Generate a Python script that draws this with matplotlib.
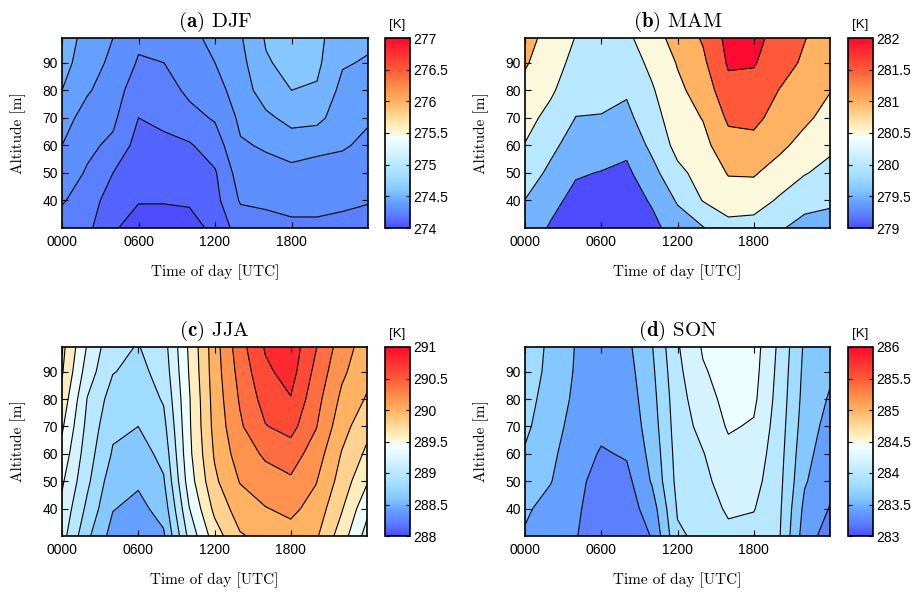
import numpy as np
import matplotlib

matplotlib.use("Agg")
import matplotlib.pyplot as plt
from matplotlib.colors import LinearSegmentedColormap, Normalize
from matplotlib.cm import ScalarMappable

plt.rcParams["mathtext.fontset"] = "cm"
plt.rcParams["font.family"] = ["Liberation Sans", "DejaVu Sans"]

# time of day [h] and altitude [m] of the grid
hours = [0, 2, 4, 6, 8, 10, 12, 14, 16, 18, 20, 22, 24]
altitudes = [30, 40, 50, 60, 70, 80, 90, 99]

# temperature profiles [K], one list per hour (altitudes 30 -> 99 m)
djf = [
    [274.25, 274.31, 274.35, 274.40, 274.44, 274.50, 274.54, 274.56],
    [274.22, 274.25, 274.29, 274.32, 274.36, 274.41, 274.44, 274.46],
    [274.12, 274.15, 274.20, 274.28, 274.32, 274.35, 274.38, 274.40],
    [274.03, 274.11, 274.13, 274.16, 274.20, 274.24, 274.29, 274.32],
    [274.03, 274.11, 274.14, 274.18, 274.22, 274.26, 274.30, 274.33],
    [274.04, 274.12, 274.16, 274.19, 274.27, 274.32, 274.36, 274.38],
    [274.14, 274.17, 274.19, 274.25, 274.31, 274.36, 274.40, 274.42],
    [274.24, 274.31, 274.35, 274.39, 274.42, 274.45, 274.47, 274.49],
    [274.26, 274.32, 274.37, 274.41, 274.48, 274.55, 274.59, 274.61],
    [274.28, 274.33, 274.37, 274.45, 274.53, 274.60, 274.63, 274.64],
    [274.28, 274.33, 274.37, 274.42, 274.53, 274.59, 274.62, 274.63],
    [274.27, 274.32, 274.36, 274.41, 274.44, 274.47, 274.51, 274.53],
    [274.24, 274.31, 274.34, 274.38, 274.41, 274.45, 274.49, 274.52],
]
mam = [
    [279.80, 279.99, 280.25, 280.48, 280.67, 280.86, 281.05, 281.15],
    [279.45, 279.65, 279.90, 280.12, 280.35, 280.58, 280.73, 280.85],
    [279.15, 279.35, 279.55, 279.78, 279.99, 280.18, 280.35, 280.48],
    [279.05, 279.25, 279.48, 279.75, 279.98, 280.12, 280.24, 280.35],
    [279.08, 279.24, 279.40, 279.62, 279.88, 280.06, 280.24, 280.40],
    [279.35, 279.56, 279.84, 280.12, 280.30, 280.45, 280.62, 280.78],
    [279.75, 280.05, 280.38, 280.65, 280.78, 280.90, 281.03, 281.20],
    [279.97, 280.52, 280.68, 280.85, 281.02, 281.20, 281.40, 281.55],
    [280.32, 280.77, 281.03, 281.32, 281.58, 281.85, 282.06, 282.15],
    [280.30, 280.72, 281.05, 281.35, 281.62, 281.82, 282.04, 282.12],
    [280.05, 280.44, 280.78, 281.12, 281.32, 281.49, 281.72, 281.85],
    [279.85, 280.15, 280.53, 280.82, 281.10, 281.27, 281.42, 281.52],
    [279.80, 280.08, 280.35, 280.60, 280.82, 281.02, 281.15, 281.25],
]
jja = [
    [289.28, 289.35, 289.43, 289.53, 289.63, 289.73, 289.82, 289.86],
    [288.84, 288.95, 289.04, 289.09, 289.14, 289.19, 289.30, 289.38],
    [288.52, 288.61, 288.68, 288.78, 288.84, 288.91, 289.01, 289.05],
    [288.48, 288.54, 288.63, 288.71, 288.80, 288.87, 288.94, 288.99],
    [288.57, 288.68, 288.78, 288.86, 288.94, 289.02, 289.08, 289.12],
    [289.26, 289.39, 289.50, 289.55, 289.57, 289.58, 289.61, 289.63],
    [289.70, 289.85, 289.96, 290.02, 290.06, 290.08, 290.10, 290.11],
    [289.98, 290.10, 290.21, 290.30, 290.37, 290.42, 290.47, 290.52],
    [290.06, 290.19, 290.32, 290.43, 290.59, 290.68, 290.76, 290.82],
    [290.12, 290.25, 290.37, 290.50, 290.67, 290.79, 290.88, 290.92],
    [290.03, 290.12, 290.21, 290.30, 290.41, 290.47, 290.54, 290.61],
    [289.70, 289.82, 289.92, 289.99, 290.08, 290.16, 290.24, 290.30],
    [289.32, 289.45, 289.62, 289.76, 289.86, 289.98, 290.06, 290.10],
]
son = [
    [283.58, 283.63, 283.70, 283.78, 283.84, 283.87, 283.90, 283.92],
    [283.48, 283.53, 283.61, 283.64, 283.68, 283.72, 283.75, 283.76],
    [283.41, 283.43, 283.45, 283.50, 283.53, 283.56, 283.58, 283.59],
    [283.28, 283.30, 283.33, 283.38, 283.45, 283.48, 283.50, 283.52],
    [283.28, 283.30, 283.34, 283.42, 283.46, 283.49, 283.52, 283.55],
    [283.41, 283.50, 283.62, 283.66, 283.70, 283.73, 283.76, 283.79],
    [283.97, 284.02, 284.06, 284.08, 284.10, 284.12, 284.15, 284.18],
    [284.05, 284.10, 284.15, 284.19, 284.26, 284.32, 284.38, 284.42],
    [284.15, 284.23, 284.29, 284.35, 284.42, 284.46, 284.48, 284.50],
    [284.13, 284.21, 284.27, 284.32, 284.38, 284.44, 284.47, 284.49],
    [284.02, 284.04, 284.06, 284.08, 284.10, 284.12, 284.14, 284.16],
    [283.50, 283.55, 283.62, 283.66, 283.70, 283.73, 283.75, 283.77],
    [283.30, 283.39, 283.45, 283.49, 283.53, 283.58, 283.63, 283.66],
]

panel_letters = ["(a)", "(b)", "(c)", "(d)"]
seasons = ["DJF", "MAM", "JJA", "SON"]
color_ranges = [(274, 277), (279, 282), (288, 291), (283, 286)]
contour_steps = [0.1, 0.5, 0.2, 0.2]
time_ticks = [0, 6, 12, 18]
time_labels = ["0000", "0600", "1200", "1800"]
alt_ticks = [40, 50, 60, 70, 80, 90]

# blue - white - red colour scale
cmap = LinearSegmentedColormap.from_list("bwr_k", [
    (0.00, "#4d4dff"), (0.033, "#5466ff"), (0.067, "#5a80ff"),
    (0.10, "#5e90ff"), (0.133, "#64a0ff"), (0.20, "#84c8ff"),
    (0.267, "#a0dcff"), (0.333, "#b8e8ff"), (0.40, "#d4f3ff"),
    (0.475, "#f0ffff"), (0.51, "#fff6d2"), (0.58, "#ffdc9c"),
    (0.667, "#ffb262"), (0.75, "#ff8a4a"), (0.833, "#ff5a3a"),
    (0.92, "#ff3030"), (1.00, "#ff0a30"),
])

W, H = 919, 593


def px_box(x0, y0, x1, y1):
    return [x0 / W, 1 - y1 / H, (x1 - x0) / W, (y1 - y0) / H]


axes_px = [(62, 38, 368, 228), (525, 38, 830, 228),
           (62, 347, 367, 536), (525, 347, 830, 536)]
cbar_px = [(385, 38, 410, 228), (848, 38, 873, 228),
           (385, 347, 410, 536), (848, 347, 873, 536)]

fig = plt.figure(figsize=(W / 100, H / 100), dpi=100)

for i, field in enumerate([djf, mam, jja, son]):
    vmin, vmax = color_ranges[i]
    step = contour_steps[i]
    temp = np.array(field).T
    levels = np.arange(vmin, vmax + 1.5 * step, step)
    norm = Normalize(vmin, vmax)
    # each band takes the colour of its lower level
    band_colors = [cmap(norm(l)) for l in levels[:-1]]

    ax = fig.add_axes(px_box(*axes_px[i]))
    ax.contourf(hours, altitudes, temp, levels=levels, colors=band_colors)
    ax.contour(hours, altitudes, temp, levels=levels, colors="k", linewidths=0.8)
    ax.set_xlim(0, 24)
    ax.set_ylim(30, 99)
    ax.set_xticks(time_ticks)
    ax.set_xticklabels(time_labels)
    ax.set_yticks(alt_ticks)
    ax.tick_params(direction="in", top=True, right=True, length=4, width=0.8,
                   labelsize=10, pad=5)
    ax.tick_params(axis="y", pad=3)
    for sp in ax.spines.values():
        sp.set_linewidth(1.2)
    ax.set_xlabel("Time of day [UTC]", fontfamily="cmr10", fontsize=11, labelpad=11)
    ax.set_ylabel("Altitude [m]", fontfamily="cmr10", fontsize=11, labelpad=12)
    ax.set_title(r"$\mathbf{" + panel_letters[i] + "}$ " + seasons[i],
                 fontfamily="cmr10", fontsize=15, pad=8)

    cax = fig.add_axes(px_box(*cbar_px[i]))
    cb = fig.colorbar(ScalarMappable(norm=norm, cmap=cmap), cax=cax)
    cb.set_ticks(np.arange(vmin, vmax + 0.01, 0.5))
    cb.set_ticklabels(["%g" % t for t in np.arange(vmin, vmax + 0.01, 0.5)])
    cb.outline.set_linewidth(1.2)
    cax.tick_params(direction="in", left=True, right=True, length=3, width=0.8,
                    labelsize=10, pad=2)
    cax.set_title("[K]", fontsize=9.5, pad=7)

fig.savefig("out.png", dpi=100)
